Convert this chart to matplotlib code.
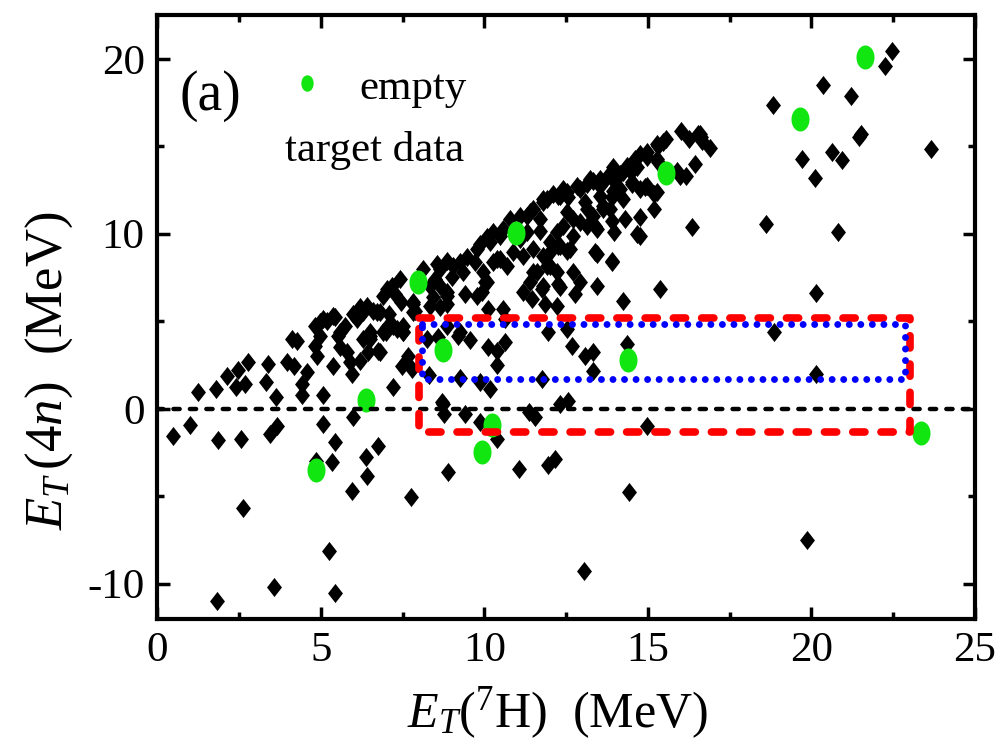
import numpy as np
import matplotlib
matplotlib.use("Agg")
import matplotlib.pyplot as plt

plt.rcParams['font.family'] = ['Liberation Serif', 'DejaVu Serif']
plt.rcParams['mathtext.fontset'] = 'custom'
plt.rcParams['mathtext.rm'] = 'Liberation Serif'
plt.rcParams['mathtext.it'] = 'Liberation Serif:italic'
plt.rcParams['axes.unicode_minus'] = False

# simulated events (black diamonds): E_T(7H), E_T(4n)
sim_x = [0.49, 1.0, 1.26, 1.8, 1.87, 2.13, 2.42, 2.48, 2.69, 2.79, 2.56, 3.33, 3.39, 3.63, 3.45, 3.67,
         3.97, 4.18, 4.12, 4.27, 4.43, 4.43, 4.58, 5.07, 5.07, 5.44, 5.37, 4.82, 4.98, 5.19, 5.44, 4.82,
         4.89, 5.53, 5.59, 5.8, 5.89, 5.95, 6.1, 6.29, 5.98, 6.2, 6.5, 6.44, 6.75, 6.8, 7.1, 7.0,
         7.2, 5.98, 6.75, 7.33, 7.52, 7.48, 7.66, 7.82, 7.45, 7.82,
         4.86, 5.34, 6.38, 6.41, 5.95, 2.63, 5.25, 3.57, 1.83, 5.44, 7.76, 8.89, 8.73, 8.76, 9.4, 9.86, 10.4,
         8.24, 8.58, 9.19, 9.56, 10.1, 10.38, 10.63, 10.38, 8.31, 9.25, 9.86, 10.17, 11.94, 12.52, 12.67,
         13.07, 13.31, 13.31, 11.76, 14.35, 8.7, 11.05, 11.94, 12.15, 11.36, 11.54, 12.3, 12.55, 14.96,
         14.41, 13.04, 7.79, 6.9, 6.5, 6.8,
         22.47, 22.26, 20.34, 21.22, 18.84, 21.47, 21.53, 20.64, 20.95, 19.7, 20.12, 23.66, 18.6, 20.8,
         20.15, 18.87, 20.15, 19.85,
         16.0, 15.57, 16.52, 16.64, 16.27, 16.89, 16.43, 16.18, 15.27, 14.96, 14.75, 15.3, 14.44, 14.14,
         13.92, 13.74, 13.53, 13.31, 14.9, 15.2, 14.53, 13.92, 14.23, 15.2, 14.75, 14.29, 14.75, 13.89,
         13.62, 12.92, 13.07, 12.55, 11.91, 12.24, 13.37, 13.44, 13.89, 16.34, 15.36, 14.23, 12.7, 12.76,
         12.3, 12.21, 11.76, 11.85, 11.45, 11.18, 11.6, 11.39, 11.91, 12.52, 12.0, 12.3, 12.7, 10.56,
         10.63, 10.1, 8.85, 8.43, 9.4, 9.92, 10.02, 7.88, 7.5, 9.71, 10.38,
         5.37, 5.07, 6.2, 6.41, 6.6, 7.02, 7.18, 7.42, 6.9, 7.27, 8.12, 8.55, 8.64, 8.85, 9.04, 9.25,
         9.47, 9.77, 9.86, 10.08, 10.17, 10.26, 10.47, 10.78, 10.56, 8.49, 8.34, 8.64, 9.0, 9.34, 9.95,
         10.26, 10.08, 9.77, 8.85, 8.34, 8.64, 8.85, 7.82, 8.85, 9.25, 5.74, 5.59, 6.72, 7.02, 7.21,
         7.51, 6.5, 6.29, 4.98,
         16.58, 16.67, 15.3, 14.96, 14.6, 15.27, 15.88, 15.97, 14.35, 14.23, 13.53, 13.13, 14.96, 15.27,
         14.53, 14.75, 14.5, 14.66, 13.98, 14.14, 12.52, 12.3, 11.79, 11.48, 11.3, 11.7, 12.52, 12.7,
         13.13, 13.31, 13.62, 13.83, 13.53, 13.89, 14.66, 13.98, 13.44, 13.13, 12.92, 12.4, 12.21, 12.0,
         12.24, 12.61, 13.37, 13.89, 11.79, 12.0, 12.21, 11.48, 11.79, 12.24, 10.47, 10.69, 10.87, 11.18,
         11.48, 11.7, 11.3, 11.08, 11.39, 11.08, 11.79, 12.09, 12.4, 12.82, 13.22, 12.92, 13.44, 15.45]
sim_y = [-1.54, -0.9, 0.96, 1.14, -1.76, 1.9, 1.26, 2.2, 1.43, 2.7, -1.7, 1.54, 2.57, 0.69, -1.43, -1.0,
         2.7, 2.46, 4.0, 3.9, 1.43, 0.77, 2.1, 0.77, -0.86, -1.89, 2.46, 4.74, 4.97, 5.03, 5.26, 3.6,
         3.03, 4.17, 3.54, 3.26, 2.69, 2.0, 5.14, 5.54, 5.43, 2.74, 4.17, 3.26, 3.31, 5.54, 5.43, 4.4,
         1.26, -0.46, -2.1, 4.57, 4.4, 2.46, 3.03, 5.54, 6.1, 6.1,
         -2.97, -3.03, -2.74, -3.83, -4.69, -5.66, -8.1, -10.17, -10.97, -10.51, -5.03, -3.6, 0.29, -0.29,
         -0.29, -0.74, -1.71,
         4.0, 4.1, 4.17, 3.94, 3.54, 3.31, 3.83, 2.51, 1.94, 1.77, 1.54, 1.14, 4.4, 4.57, 3.6,
         3.03, 3.26, 2.17, 1.71, 3.71, 0.4, -3.43, -3.2, -2.86, -0.17, -0.46, 0.29, 0.46, -0.97,
         -4.74, -9.26, 2.29, 4.4, 4.0, 3.26,
         20.46, 19.6, 18.5, 17.9, 17.37, 15.54, 15.7, 14.7, 14.2, 14.3, 13.2, 14.86, 10.57, 10.1,
         6.63, 4.4, 2.0, -7.49,
         15.9, 15.43, 15.7, 15.54, 15.43, 14.9, 14.0, 13.3, 15.14, 14.4, 14.57, 14.1, 13.7, 13.43,
         13.83, 13.26, 12.74, 13.0, 12.7, 12.3, 12.86, 12.46, 12.0, 11.43, 10.97, 10.86, 9.9, 10.74,
         11.43, 12.57, 11.83, 12.1, 12.0, 12.17, 10.46, 8.86, 8.4, 10.4, 6.86, 6.17, 7.83, 6.57,
         6.97, 5.89, 6.86, 6.0, 6.29, 6.69, 7.83, 7.26, 8.17, 9.03, 8.97, 9.31, 9.9, 5.71,
         5.14, 5.71, 6.46, 6.4, 6.57, 6.69, 7.26, 5.6, 4.74, 8.4, 8.57,
         5.31, 5.14, 5.83, 5.89, 5.6, 6.86, 7.03, 7.43, 6.46, 6.57, 8.0, 8.29, 8.0, 8.46, 8.17, 8.4,
         8.69, 9.14, 9.43, 9.83, 9.54, 10.11, 9.89, 10.86, 10.29, 7.43, 7.03, 7.03, 7.54, 7.83, 7.83,
         8.4, 7.26, 6.46, 6.69, 5.89, 5.83, 6.0, 6.0, 4.74, 4.4, 4.74, 4.4, 5.54, 4.69, 4.74,
         4.4, 4.4, 4.0, 4.17,
         15.7, 15.3, 15.0, 14.69, 14.29, 14.29, 13.6, 13.3, 13.89, 13.54, 13.14, 12.86, 12.74, 12.4,
         12.97, 12.57, 13.54, 13.83, 13.03, 12.57, 12.4, 12.17, 11.83, 11.43, 11.03, 10.86, 11.26, 10.86,
         11.43, 11.03, 11.6, 11.43, 12.17, 12.11, 10.0, 10.11, 10.29, 10.46, 10.69, 10.46, 10.11, 9.54,
         9.31, 9.14, 8.97, 8.46, 8.74, 8.17, 7.83, 7.83, 7.03, 7.14, 8.57, 8.17, 8.97, 8.74,
         9.14, 10.17, 10.11, 9.71, 11.26, 11.03, 12.0, 12.29, 12.57, 12.74, 13.14, 7.26, 7.03, 15.26]

# empty target data (green)
empty_x = [7.97, 10.96, 15.57, 19.66, 21.65, 8.73, 14.38, 6.38, 10.23, 9.92, 4.85, 23.36]
empty_y = [7.26, 10.06, 13.5, 16.57, 20.1, 3.37, 2.8, 0.5, -0.9, -2.46, -3.5, -1.37]

# selection windows: x_min, x_max, y_min, y_max
red_box = [8.0, 23.0, -1.3, 5.2]
blue_box = [8.1, 22.85, 1.7, 4.85]

diamond = [(0, 1), (0.78, 0), (0, -1), (-0.78, 0), (0, 1)]
t = np.linspace(0, 2 * np.pi, 41)
ellipse = list(zip(0.75 * np.cos(t), np.sin(t)))

fig = plt.figure(figsize=(10.01, 7.5), dpi=100)
ax = fig.add_axes([0.157, 0.175, 0.817, 0.805])

ax.scatter(sim_x, sim_y, marker=diamond, s=190, color='black', linewidths=0, zorder=2)
ax.scatter(empty_x, empty_y, marker=ellipse, s=300, color='#11e611', linewidths=0, zorder=3)

ax.axhline(0, color='black', lw=3.2, ls=(0, (1.4, 2.3)), dash_capstyle='round', zorder=4)

def box(b):
    return [b[0], b[1], b[1], b[0], b[0]], [b[3], b[3], b[2], b[2], b[3]]

rx, ry = box(red_box)
ax.plot(rx, ry, color='red', lw=5.5, ls=(0, (1.6, 2.1)), dash_capstyle='round', zorder=5)
bx, by = box(blue_box)
ax.plot(bx, by, color='blue', lw=5, ls=(0, (0.001, 1.66)), dash_capstyle='round', zorder=6)

ax.set_xlim(0, 25)
ax.set_ylim(-12, 22.5)
ax.set_xticks([0, 5, 10, 15, 20, 25])
ax.set_xticks(np.arange(2.5, 25, 5), minor=True)
ax.set_yticks([-10, 0, 10, 20])
ax.set_yticks([-5, 5, 15], minor=True)
ax.tick_params(which='both', direction='in', top=True, right=True, width=2.5, labelsize=31)
ax.tick_params(which='major', length=9, pad=9)
ax.tick_params(which='minor', length=5)
for sp in ax.spines.values():
    sp.set_linewidth(3)

ax.set_xlabel(r'$E_T$(${}^7$H)  (MeV)', fontsize=36)
ax.set_ylabel(r'$E_T\,(4n)$  (MeV)', fontsize=38)
ax.xaxis.set_label_coords(0.49, -0.11)
ax.yaxis.set_label_coords(-0.1, 0.41)

ax.text(0.065, 0.866, '(a)', transform=ax.transAxes, fontsize=40, ha='center', va='center')
ax.scatter([0.183], [0.887], transform=ax.transAxes, marker=ellipse, s=140,
           color='#11e611', linewidths=0, clip_on=False)
ax.text(0.378, 0.878, 'empty', transform=ax.transAxes, fontsize=31, ha='right', va='center')
ax.text(0.375, 0.776, 'target data', transform=ax.transAxes, fontsize=31, ha='right', va='center')

fig.savefig('out.png', dpi=100)
